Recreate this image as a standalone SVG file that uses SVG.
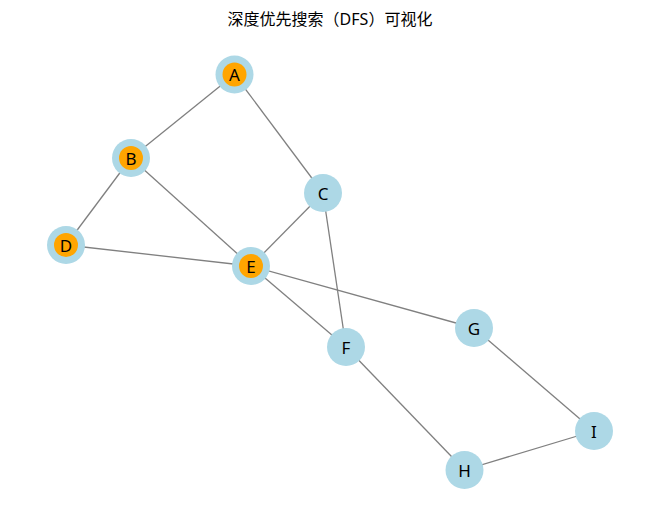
<svg xmlns="http://www.w3.org/2000/svg" width="660" height="522" viewBox="0 0 660 522">
<style>
.e{stroke:#808080;stroke-width:1.3;fill:none}
.n{fill:#add8e6}
.v{fill:#ffa500}
.t{font-family:"Noto Sans","Noto Sans CJK SC",sans-serif;font-size:17px;fill:#000;text-anchor:middle;dominant-baseline:central}
.title{font-family:"Noto Sans","Noto Sans CJK SC",sans-serif;font-size:16px;fill:#000;text-anchor:middle}
</style>
<rect width="660" height="522" fill="#fff"/>
<text class="title" x="330" y="25">深度优先搜索（DFS）可视化</text>
<g id="edges">
<line class="e" x1="234.5" y1="74.5" x2="131" y2="158"/>
<line class="e" x1="234.5" y1="74.5" x2="323" y2="193"/>
<line class="e" x1="131" y1="158" x2="66" y2="245"/>
<line class="e" x1="131" y1="158" x2="251" y2="266"/>
<line class="e" x1="66" y1="245" x2="251" y2="266"/>
<line class="e" x1="323" y1="193" x2="251" y2="266"/>
<line class="e" x1="323" y1="193" x2="346" y2="347"/>
<line class="e" x1="251" y1="266" x2="346" y2="347"/>
<line class="e" x1="251" y1="266" x2="474" y2="328"/>
<line class="e" x1="346" y1="347" x2="464.5" y2="470"/>
<line class="e" x1="474" y1="328" x2="594" y2="431"/>
<line class="e" x1="464.5" y1="470" x2="594" y2="431"/>
</g>
<g id="A"><circle class="n" cx="234.5" cy="74.5" r="19"/><circle class="v" cx="234.5" cy="74.5" r="12"/><text class="t" x="234.5" y="74.5">A</text></g>
<g id="B"><circle class="n" cx="131" cy="158" r="19"/><circle class="v" cx="131" cy="158" r="12"/><text class="t" x="131" y="158">B</text></g>
<g id="C"><circle class="n" cx="323" cy="193" r="19"/><text class="t" x="323" y="193">C</text></g>
<g id="D"><circle class="n" cx="66" cy="245" r="19"/><circle class="v" cx="66" cy="245" r="12"/><text class="t" x="66" y="245">D</text></g>
<g id="E"><circle class="n" cx="251" cy="266" r="19"/><circle class="v" cx="251" cy="266" r="12"/><text class="t" x="251" y="266">E</text></g>
<g id="F"><circle class="n" cx="346" cy="347" r="19"/><text class="t" x="346" y="347">F</text></g>
<g id="G"><circle class="n" cx="474" cy="328" r="19"/><text class="t" x="474" y="328">G</text></g>
<g id="H"><circle class="n" cx="464.5" cy="470" r="19"/><text class="t" x="464.5" y="470">H</text></g>
<g id="I"><circle class="n" cx="594" cy="431" r="19"/><text class="t" x="594" y="431">I</text></g>
</svg>
